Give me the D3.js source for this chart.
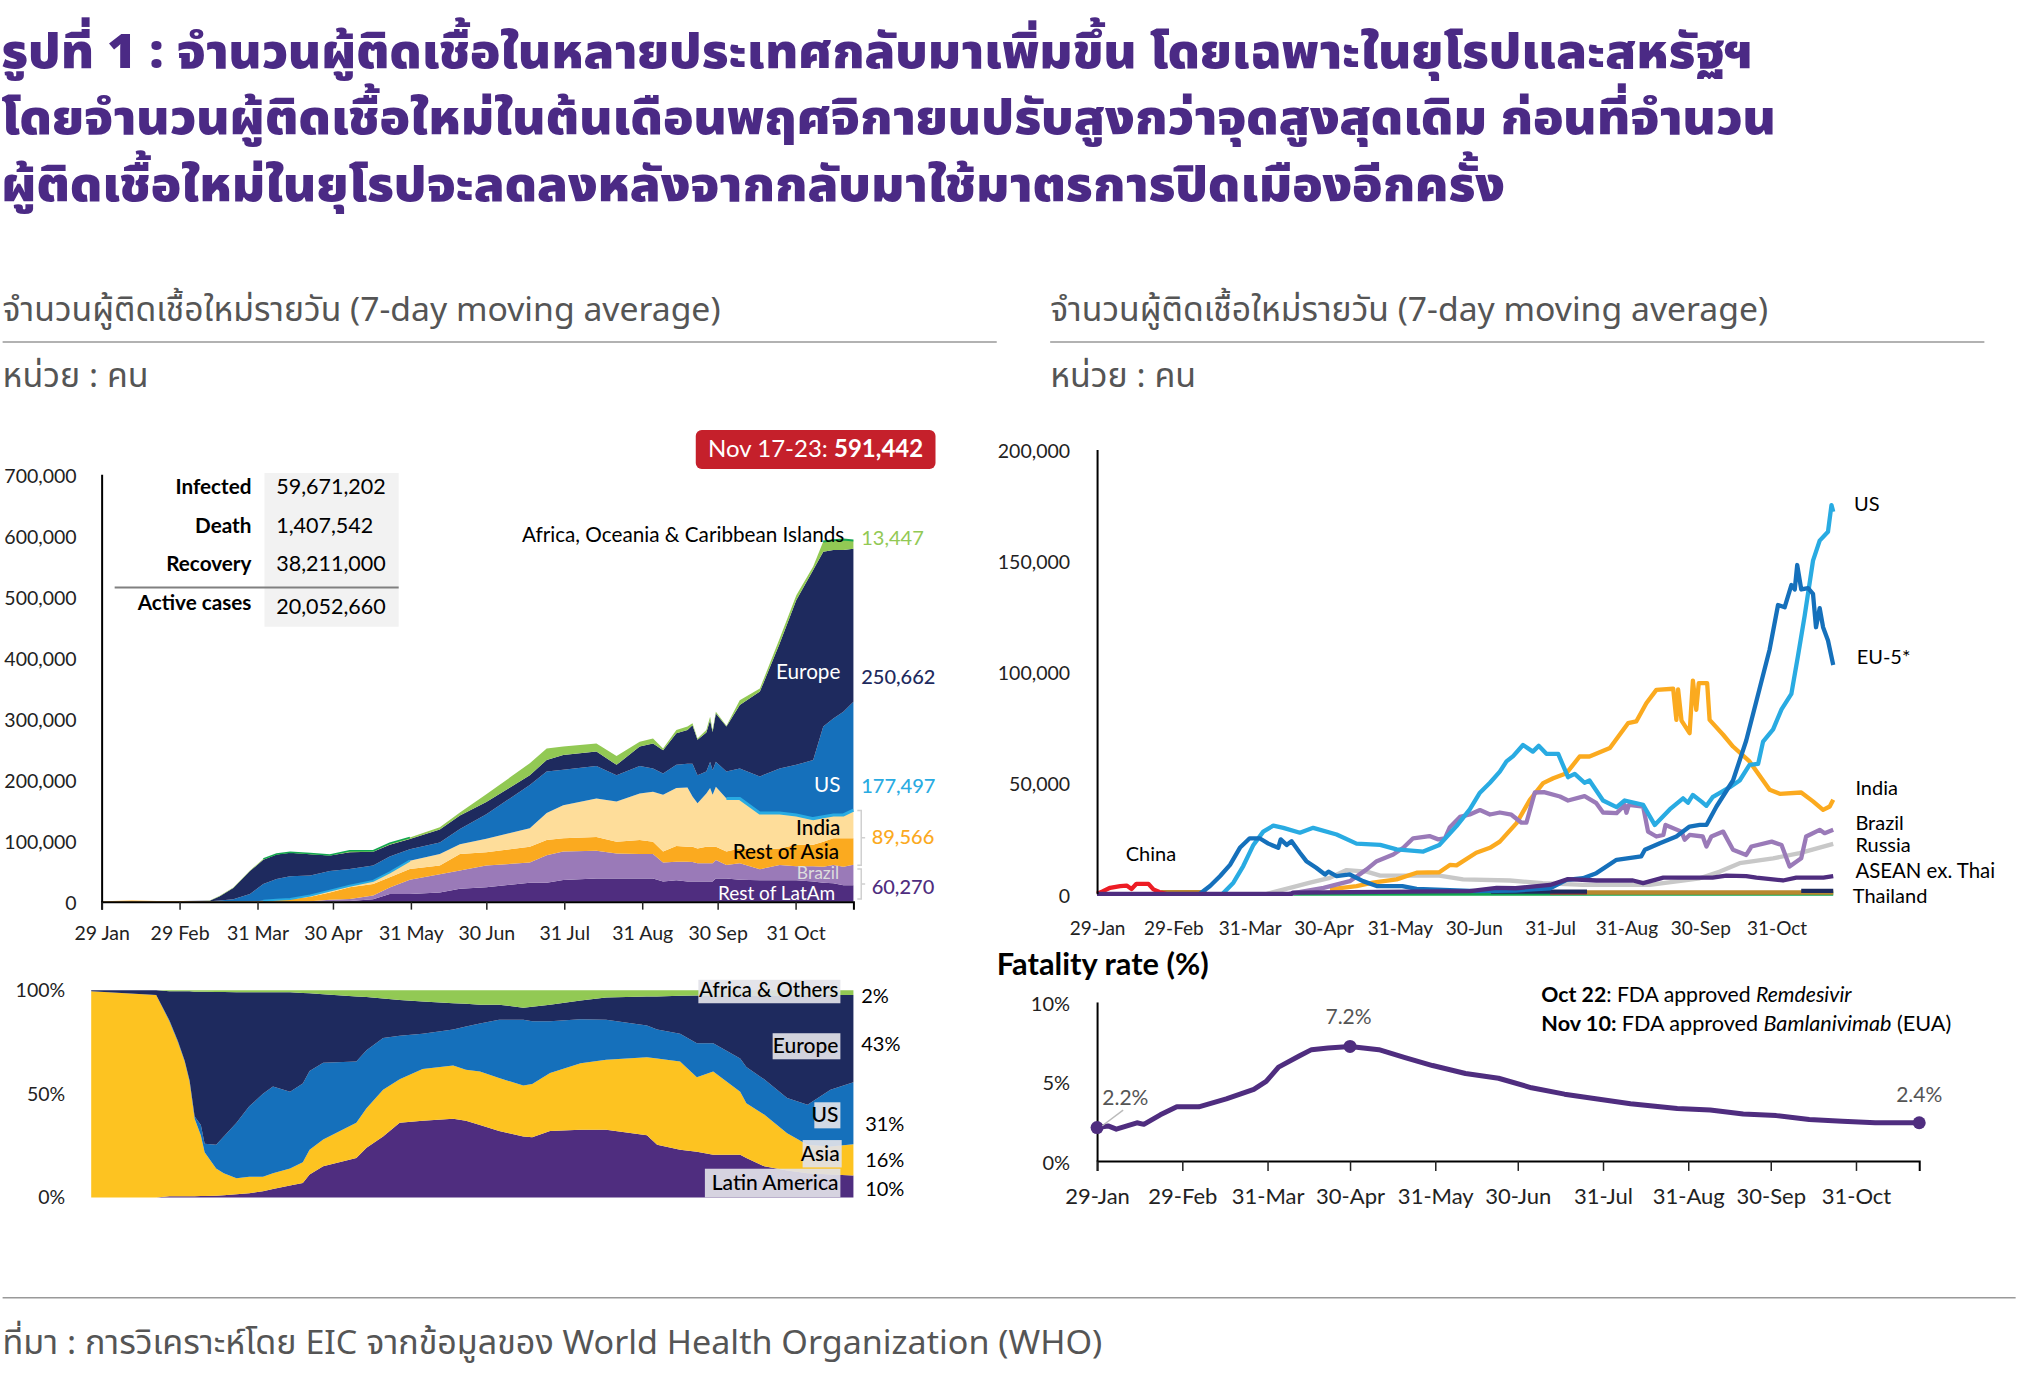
<!DOCTYPE html>
<html>
<head>
<meta charset="utf-8">
<script src="https://cdn.jsdelivr.net/npm/d3@7"></script>
<style>
  body { margin: 0; background: #fff; }
  text { font-family: Lato, "Open Sans", sans-serif; }
  text.thai { font-family: "Noto Sans Thai", "Noto Sans", "DejaVu Sans", sans-serif; }
</style>
</head>
<body>
<svg id="chart" width="2043" height="1380"></svg>
<script>
// stacked daily cases, thousands of people, by days since 29 Jan 2020
const caseDays = [0,12,22,32,40,43,47,52.4,59,64.3, 69.6,75,83,90.8,98.7,108,114.6,122.6,134.5,142.5, 153,170.3,177,183.6,196.8,204.8,214,219.3,223.3,228.6, 233,235,237,240.5,242,243,244.3,248.5,253.8,261.8, 269.7,276.3,283,287,291,295,299];
const latamCases = [0,0,0,0,0,0,0,0,0,0, 0,0,0,0,1,4,12.5,12.5,15,21, 23.5,31,31,35.5,38,38,38,38,33,35, 33,33,33,33,33,33,38,38,36,35, 35,35,33,31,30,27,27];
const brazilCases = [0,0,0,0,0,0,0,0,0,0, 0,0,.5,3,3.4,6,10.5,23.5,30,30, 35.5,33,45,46.5,45.5,41,40,40,31,30.5, 32.5,32,30,30,30,30,30,22,27,18, 25,23,25,26,30,30,33.3];
const asiaCases = [.5,2,1,1,.5,.5,.5,.5,.5,1, 2.5,3.8,7.5,12,19.1,19,17,17.5,14,27, 22,26,25,22,22.5,19,23,20,18,25.5, 24.5,25,24,27,27,27,22,22,24,32, 27,35,35,41,44,47,43.5];
const indiaCases = [0,0,0,0,0,0,0,0,0,.3, .5,.5,2,3,2.5,5,8,13.5,19,16, 22,30,44,54,63,66,76,82,93,95, 97,82,74,87,96,85,98,87,82,60, 58,49,43,41,38,38,46];
const usCases = [0,0,0,0,.1,.3,1.5,3.5,12,27.7, 34,37.2,32.6,32,27.5,25,26,19,19,25, 40,71,68,58,53,43,45,38,35,38, 39,54,46,36,43,40,41,44,49,60, 73,82,96,148,158,169,177.5];
const europeCases = [0,0,0,.2,.9,.8,7,18.5,37.5,39.5, 40,38.5,34.9,25.5,27.5,22.5,19,16.5,21,22, 20,16,19,24,24,17,32,41,38,52, 55,63,58,64,68,63,79,74,104,139, 205,270,311,286,276,265,250.7];
const africaCases = [0,0,0,0,.1,.1,.5,.5,1,1.5, 1,1,1.5,.9,2.5,2,2.5,2.5,4,5, 13,19.5,19,14,13,14.5,8,8,3,5, 6,3,2,4,6,3,3,1,8,5, 8,8,6,17,16,17,13.4];

// regional shares of new cases, percent
const shareDays = [0,25.5,30.7,34,36.7,38.6,40.6,43,44.5,49,52,57,62,67.4,71.3,78,83,85.7,91,104,108,114.5,121,130,142,147,152.5,160,169.5,173,180,192,202,218,222,231,237.6,244,254.6,257,264,273,281,290,299];
const latamShare = [0,0,.5,.5,.5,.5,.5,.7,.7,.8,1,1.5,2,3,4,5.8,7,11,15,19,24,29.4,36,37,38,37,35,32,29.4,29,32,32.6,32.6,30,25.4,23,22,20.6,20.6,19,15,13,11.7,11,10.6];
const asiaShare = [99.5,97.7,84.5,74.5,65.1,55.5,37.5,29.3,21.3,13.2,10.7,7.8,8,7,7.7,8.2,10,12,13,17,19,22.6,21,25,25.7,24.6,25.8,25.6,24.6,25.7,28,32.2,33.8,37.7,41.6,42.6,36,40.2,30.4,26.5,25,18,13.7,13.6,15];
const usShare = [0,0,.5,.5,.4,.5,1,5,4.1,11.4,17.7,26.7,34,40,41.8,37,38,38,37,29.6,28,25,21,17,17.3,20.9,23.2,28.1,31.7,30.3,25,21.2,19.3,15.3,14,13.4,16.4,13.6,16,17.5,17,17,19.3,27.4,30];
const europeShare = [.5,2.3,14,24,33.5,43,60.3,64.3,73.9,73.8,69.8,63,55,49,45.5,48,43.7,37.5,33,31.4,25.7,19,17.3,15.5,12.7,11,9,7.3,5.9,7,8,9,10.8,14,16,18.3,23.1,23.1,30.5,34.5,40.5,49.5,52.8,45.7,42.1];
const africaShare = [0,0,.5,.5,.5,.5,.7,.7,.7,.8,.8,1,1,1,1,1,1.3,1.5,2,3,3.3,4,4.7,5.5,6.3,6.5,7,7,8.4,8,7,5,3.5,3,3,2.7,2.5,2.5,2.5,2.5,2.5,2.5,2.5,2.3,2.3];

// country lines: [days since 29 Jan, thousands]
const usLine = [[51,0],[55.4,5],[59.4,12.5],[63.5,22],[67.5,28],[71.6,30.7],[75.7,29.7],[82.4,27.5],[87.8,29.7],[97.3,26.7],[105.4,22.6],[115,22],[121.7,20],[132.5,19],[139,22],[146,30.5],[151.4,38],[155.5,45.5],[159.6,50],[163.6,55],[166.3,59.6],[169,62],[173,67],[177,64],[179.4,66.6],[182.5,63],[187.3,63],[191.3,52.5],[194,54],[198,50],[200,51],[205.5,42],[211,39],[214.3,42],[221.8,40],[226.5,31],[232.6,38],[238,43],[240,41],[242,44.5],[245.5,41.5],[247.5,39.6],[250,43.5],[257,48],[261,51],[265,58],[268.5,58.5],[270.5,68.5],[274.6,74],[278,83],[282,90],[284.7,107],[287.4,125],[290.8,150],[293.5,159],[296.9,163],[298.3,175],[299,172]];
const euLine = [[41.8,0],[45.9,3.5],[50,8],[54,13],[58,20.7],[62,25],[66,25],[69.6,22.6],[73.6,20.7],[74.6,24.5],[77,22],[79,23.7],[82.4,18.5],[85,14.7],[89,11.7],[92.6,8.7],[94,10],[97.3,8],[102.7,8.7],[108,5.7],[113.6,3.5],[124,3.5],[129.8,2.2],[154,1.2],[170,1.5],[184,2.5],[190.7,6.3],[197.4,7],[202.8,9.3],[211,15.3],[221,16.8],[222.5,19.8],[228.6,22.8],[235.3,25.8],[240.7,30.3],[244.8,31],[247.5,31],[251.6,39.3],[258.3,51],[263.7,69],[269,92],[273.2,110],[276.6,130],[279.3,129],[282,139],[283.4,137],[284.4,148],[286,137],[288.8,137.6],[290.8,135],[292,120],[293.5,128.6],[294.9,120],[296.9,114],[299,103]];
const indiaLine = [[94.6,2],[105.4,3.5],[112,5],[121.7,6.5],[129.8,9.5],[139,9.7],[143.3,13],[146,12.8],[154,18.5],[159.6,20.7],[163.6,23.5],[170.4,31.8],[175.8,42.3],[181.2,49.8],[185.3,52],[190.7,54.3],[196,61.8],[200,61.8],[208.3,65.6],[215.7,76.8],[219,77.6],[223.1,85.8],[227.2,91.8],[234,92.3],[235.3,78.3],[236,92],[237.4,78],[240.7,72.3],[242,96],[243.4,82.8],[244.4,94.8],[247.8,94.8],[248.8,78.3],[254.3,71.6],[258.3,66.3],[265,59.6],[273.2,46.8],[277.3,45],[286,45.6],[290.8,41.6],[294.9,37.8],[297.6,39.3],[299,42.3]];
const brazilLine = [[78,0],[92,2.7],[102.7,5.7],[109.5,11],[113.6,14.7],[120.3,17.7],[124.4,20.7],[128.4,25],[135,26],[138.6,24.5],[141.3,25],[143.3,30],[147.4,34.6],[151.4,35.7],[155.5,37.7],[159.6,35.7],[163.6,36.6],[168.3,35.6],[172.4,32],[174.4,32],[177.8,45.6],[181.5,45.8],[188,43.8],[191.3,42],[198,44],[202.8,40.8],[205.5,36.6],[211,36.3],[214.3,40],[215,36.5],[216,40],[221.8,39.3],[223.8,28],[227.2,25.8],[230,26.5],[230.9,31],[237.4,28],[238.7,24.3],[240.7,26.5],[246,25.8],[247.5,21.3],[249.5,25.8],[254.3,28],[258.3,19.8],[263.7,17.5],[265.8,21.3],[274,23.5],[278,22],[281.3,12.3],[286,16],[288,25.8],[293.5,28.8],[295.5,27.3],[299,28.8]];
const russiaLine = [[69,0],[78.4,2.7],[86.5,5],[94.6,7.2],[101.4,10.7],[109.5,10],[115,8.2],[139,8.2],[148.7,6.5],[167.7,6],[181,4.8],[197.4,4],[224.5,4],[244.8,7],[253,10],[261,13.8],[274.6,16],[285.4,18.3],[299,22.5]];
const aseanLine = [[0,0],[79,0],[79.5,.5],[151.4,1.2],[162.3,2.7],[170,2.5],[184,4],[191.3,6.6],[202.8,6],[217.7,6],[221.8,4.8],[230,7.3],[250,7.3],[255.6,8.2],[263.7,8],[267.8,7.3],[278.6,6],[284,7.3],[295,7.3],[299,8]];
const chinaLine = [[0,0],[2,1],[5.3,2.7],[9.4,3.5],[12,3.7],[14,2.2],[16,4.5],[20.9,4.5],[22.9,2],[25.6,.7],[28,0]];
const tanEarly = [[26,.7],[44.5,.7]];
const tanLate = [[198.8,.6],[299,.6]];
const redLate = [[184,.7],[199,.7]];
const navyMid = [[160,1],[199,1]];
const navyLate = [[286,1.3],[299,1.3]];
const thailandLine = [[79.7,.05],[299,.05]];

// fatality rate: [days since 29 Jan, percent]
const fatalityLine = [[0,2.1],[4,2.2],[7,2],[14.5,2.4],[17,2.3],[23,2.9],[29,3.4],[37,3.4],[47,3.9],[57,4.5],[61.5,5],[66,5.9],[73.5,6.6],[78,7],[84,7.1],[92,7.2],[102.5,7],[112,6.5],[122,6],[134,5.5],[146,5.2],[158,4.6],[170,4.2],[182,3.9],[194,3.6],[211,3.3],[223,3.2],[235,2.95],[247,2.85],[259,2.6],[271,2.5],[283,2.4],[299,2.4]];
const fatalityDots = [[0,2.1],[92,7.2],[299,2.4]];

const monthTicks = ["01-29","02-29","03-31","04-30","05-31","06-30","07-31","08-31","09-30","10-31"];
const titleLines = [
  "รูปที่ 1 : จำนวนผู้ติดเชื้อในหลายประเทศกลับมาเพิ่มขึ้น โดยเฉพาะในยุโรปและสหรัฐฯ",
  "โดยจำนวนผู้ติดเชื้อใหม่ในต้นเดือนพฤศจิกายนปรับสูงกว่าจุดสูงสุดเดิม ก่อนที่จำนวน",
  "ผู้ติดเชื้อใหม่ในยุโรปจะลดลงหลังจากกลับมาใช้มาตรการปิดเมืองอีกครั้ง"
];

const colors = {
  latam: "#4f2d7f", brazil: "#9a7ab8", orange: "#fbaa1f", pale: "#fedd9a", blue: "#1570bb",
  sky: "#29abe2", navy: "#1e2a5e", green: "#92c954", yellow: "#fdc321", grey: "#c8c8c8"
};

// layout is measured on the 1568 wide view of the reference
const k = 2043 / 1568;
const parseDay = d3.timeParse("%Y-%m-%d");
const day = (s) => parseDay("2020-" + s);
const offset = (n) => d3.timeHour.offset(day("01-29"), n * 24);
const endDay = day("11-23");
const ticks = monthTicks.map(day);

const svg = d3.select("#chart");

function label(x, y, str, opts = {}) {
  const t = svg.append("text")
    .attr("x", x * k).attr("y", y * k)
    .attr("font-size", opts.size || 19)
    .attr("font-weight", opts.weight || 400)
    .attr("fill", opts.fill || "#000")
    .attr("text-anchor", opts.anchor || "start")
    .text(str);
  if (opts.cls) t.attr("class", opts.cls);
  if (opts.width) {
    t.attr("textLength", opts.width * k).attr("lengthAdjust", "spacingAndGlyphs");
  }
  return t;
}

// headers
titleLines.forEach((s, i) => {
  label(1, 52 + i * 51, s, { size: 48, weight: 900, fill: "#4b2a85", cls: "thai", width: [1344, 1362, 1154][i] });
});
["2", "806"].forEach((x) => {
  label(+x, 246, "จำนวนผู้ติดเชื้อใหม่รายวัน (7-day moving average)", { size: 33, fill: "#555", cls: "thai", width: 551 });
  label(+x, 297, "หน่วย : คน", { size: 33, fill: "#555", cls: "thai", width: 112 });
});
svg.append("line").attr("x1", 2 * k).attr("x2", 765 * k).attr("y1", 262.5 * k).attr("y2", 262.5 * k).attr("stroke", "#999").attr("stroke-width", 1.5);
svg.append("line").attr("x1", 806 * k).attr("x2", 1523 * k).attr("y1", 262.5 * k).attr("y2", 262.5 * k).attr("stroke", "#999").attr("stroke-width", 1.5);
svg.append("line").attr("x1", 2 * k).attr("x2", 1547 * k).attr("y1", 996 * k).attr("y2", 996 * k).attr("stroke", "#999").attr("stroke-width", 1.5);
label(2, 1039, "ที่มา : การวิเคราะห์โดย EIC จากข้อมูลของ World Health Organization (WHO)", { size: 33, fill: "#555", cls: "thai", width: 844 });

function bottomAxis(x, yPos, fmt, size, pad, font) {
  const g = svg.append("g")
    .attr("transform", `translate(0,${yPos})`)
    .call(d3.axisBottom(x).tickValues(ticks).tickFormat(d3.timeFormat(fmt)).tickSize(size).tickPadding(pad));
  g.select(".domain").attr("stroke", "#000").attr("stroke-width", 2);
  g.selectAll("line").attr("stroke", "#222").attr("stroke-width", 1.5);
  g.selectAll("text").attr("font-size", font).attr("fill", "#222").attr("font-family", "Lato");
  return g;
}

function leftAxis(y, xPos, values, fmt, font, pad) {
  const g = svg.append("g")
    .attr("transform", `translate(${xPos},0)`)
    .call(d3.axisLeft(y).tickValues(values).tickFormat(fmt).tickSize(0).tickPadding(pad));
  g.select(".domain").attr("stroke", "#000").attr("stroke-width", 2);
  g.selectAll("text").attr("font-size", font).attr("fill", "#222").attr("font-family", "Lato").attr("dy", "0.42em");
  return g;
}

// ---- stacked area, top left ----
const x1 = d3.scaleTime().domain([day("01-29"), endDay]).range([78 * k, 655 * k]);
const y1 = d3.scaleLinear().domain([0, 700000]).range([692 * k, 364 * k]);

const caseRows = caseDays.map((d, i) => ({
  date: offset(d),
  latam: latamCases[i], brazil: brazilCases[i], asia: asiaCases[i], india: indiaCases[i],
  us: usCases[i], europe: europeCases[i], africa: africaCases[i]
}));
const caseKeys = ["latam", "brazil", "asia", "india", "us", "europe", "africa"];
const caseFill = { latam: colors.latam, brazil: colors.brazil, asia: colors.orange, india: colors.pale, us: colors.blue, europe: colors.navy, africa: colors.green };
const caseStack = d3.stack().keys(caseKeys)(caseRows);
const caseArea = d3.area()
  .x((d) => x1(d.data.date))
  .y0((d) => y1(d[0] * 1000))
  .y1((d) => y1(d[1] * 1000));

svg.append("g").selectAll("path").data(caseStack).enter().append("path")
  .attr("d", caseArea)
  .attr("fill", (d) => caseFill[d.key]);

// thin strips: sky on top of the India band, dark green on top of the whole stack
const stackEdge = d3.line().x((d) => x1(d.data.date)).y((d) => y1(d[1] * 1000));
function edgeStrip(layer, from, to, color, width) {
  const part = layer.filter((d) => d.data.date >= offset(from) && d.data.date <= offset(to));
  svg.append("path").attr("d", stackEdge(part)).attr("fill", "none").attr("stroke", color).attr("stroke-width", width);
}
edgeStrip(caseStack[3], 64, 123, colors.sky, 2);
edgeStrip(caseStack[3], 248, 299, colors.sky, 3);
edgeStrip(caseStack[6], 64, 123, "#12a650", 1.5);
edgeStrip(caseStack[6], 287, 299, "#12a650", 2);

bottomAxis(x1, 692 * k, "%-d %b", 8, 17, 19.5);
leftAxis(y1, 78 * k, d3.range(0, 700001, 100000), d3.format(","), 19.5, 25);

// summary box
svg.append("rect").attr("x", 203 * k).attr("y", 363 * k).attr("width", 103 * k).attr("height", 118 * k).attr("fill", "#f2f2f2");
svg.append("line").attr("x1", 88 * k).attr("x2", 306 * k).attr("y1", 451 * k).attr("y2", 451 * k).attr("stroke", "#808080").attr("stroke-width", 2);
[["Infected", "59,671,202", 379, 379], ["Death", "1,407,542", 409, 409], ["Recovery", "38,211,000", 438, 438], ["Active cases", "20,052,660", 468, 471]].forEach(([a, b, ya, yb]) => {
  label(193, ya, a, { size: 20.7, weight: 700, anchor: "end" });
  label(212, yb, b, { size: 21.5 });
});

// red badge
svg.append("rect").attr("x", 534 * k).attr("y", 330 * k).attr("width", 184 * k).attr("height", 30 * k).attr("rx", 6).attr("fill", "#c5202b");
const badge = label(626, 351, "Nov 17-23: ", { size: 24, fill: "#fff", anchor: "middle" });
badge.append("tspan").attr("font-weight", 700).text("591,442");

label(648, 416, "Africa, Oceania & Caribbean Islands", { size: 20.7, anchor: "end" });
label(661, 418, "13,447", { size: 20, fill: colors.green });
label(645, 521, "Europe", { size: 20.7, fill: "#fff", anchor: "end" });
label(661, 525, "250,662", { size: 20, fill: colors.navy, weight: 500 });
label(645, 608, "US", { size: 20.7, fill: "#fff", anchor: "end" });
label(661, 609, "177,497", { size: 20, fill: colors.sky, weight: 500 });
label(645, 641, "India", { size: 20.7, anchor: "end", weight: 500 });
label(644, 659, "Rest of Asia", { size: 20.7, anchor: "end", weight: 500 });
label(669, 648, "89,566", { size: 20, fill: colors.orange, weight: 500 });
label(644, 675, "Brazil", { size: 17.5, fill: "#ddd", anchor: "end" });
label(641, 691, "Rest of LatAm", { size: 19, fill: "#fff", anchor: "end" });
label(669, 686, "60,270", { size: 20, fill: colors.latam, weight: 500 });

[[622, 664], [667, 690]].forEach(([a, b]) => {
  const m = (a + b) / 2;
  svg.append("path")
    .attr("d", `M${658 * k},${a * k}h${3 * k}v${(m - a) * k}h${3 * k}h${-3 * k}v${(b - m) * k}h${-3 * k}`)
    .attr("fill", "none").attr("stroke", "#d0d0d0").attr("stroke-width", 1.5);
});

// ---- 100% stack, bottom left ----
const x2 = d3.scaleTime().domain([day("01-29"), endDay]).range([70 * k, 655 * k]);
const y2 = d3.scaleLinear().domain([0, 1]).range([919 * k, 760 * k]);
const shareRows = shareDays.map((d, i) => ({
  date: offset(d), latam: latamShare[i], asia: asiaShare[i], us: usShare[i], europe: europeShare[i], africa: africaShare[i]
}));
const shareFill = { latam: colors.latam, asia: colors.yellow, us: colors.blue, europe: colors.navy, africa: colors.green };
const shareStack = d3.stack().keys(["latam", "asia", "us", "europe", "africa"]).offset(d3.stackOffsetExpand)(shareRows);
svg.append("g").selectAll("path").data(shareStack).enter().append("path")
  .attr("d", d3.area().x((d) => x2(d.data.date)).y0((d) => y2(d[0])).y1((d) => y2(d[1])))
  .attr("fill", (d) => shareFill[d.key]);

[[0, "0%"], [0.5, "50%"], [1, "100%"]].forEach(([v, s]) => {
  svg.append("text").attr("x", 50 * k).attr("y", y2(v) + 7).attr("text-anchor", "end").attr("font-size", 19.5).attr("fill", "#222").text(s);
});

[[536, 752, 109, 18, "Africa & Others", 765, "2%", 770, 661, 20.3],
 [593, 793, 52, 20, "Europe", 808, "43%", 807, 661, 21],
 [625, 846, 20, 20, "US", 861, "31%", 868, 664, 21],
 [616, 875, 30, 21, "Asia", 891, "16%", 896, 664, 21],
 [541, 897, 104, 22, "Latin America", 913, "10%", 918, 664, 21]].forEach(([rx, ry, rw, rh, name, ty, pct, py, px, sz]) => {
  svg.append("rect").attr("x", rx * k).attr("y", ry * k).attr("width", rw * k).attr("height", rh * k).attr("fill", "#e2e2e8").attr("opacity", 0.92);
  label(rx + rw - 1.5, ty, name, { size: sz, anchor: "end", weight: 500 });
  label(px, py, pct, { size: 20 });
});

// ---- country lines, top right ----
const x3 = d3.scaleTime().domain([day("01-29"), endDay]).range([842 * k, 1407 * k]);
const y3 = d3.scaleLinear().domain([0, 200000]).range([686 * k, 345 * k]);
const countryLine = d3.line().x((d) => x3(offset(d[0]))).y((d) => y3(d[1] * 1000));

const lineSeries = [
  [russiaLine, colors.grey], [thailandLine, "#12a650"], [tanEarly, "#b8892f"], [tanLate, "#b8892f"], [redLate, "#ed1c24"],
  [navyMid, colors.navy], [navyLate, colors.navy], [chinaLine, "#ed1c24"],
  [indiaLine, colors.orange], [brazilLine, colors.brazil], [usLine, colors.sky], [euLine, colors.blue], [aseanLine, colors.latam]
];
svg.append("g").selectAll("path").data(lineSeries).enter().append("path")
  .attr("d", (d) => countryLine(d[0]))
  .attr("fill", "none").attr("stroke", (d) => d[1]).attr("stroke-width", 4.3).attr("stroke-linejoin", "round");

const ax3 = bottomAxis(x3, 686 * k, "%-d-%b", 0, 28, 19);
ax3.select(".domain").attr("stroke", "none");
leftAxis(y3, 842 * k, d3.range(0, 200001, 50000), d3.format(","), 19.5, 27);

label(864, 661, "China", { size: 20 });
label(1423, 392, "US", { size: 20 });
label(1425, 510, "EU-5*", { size: 20 });
label(1424, 610, "India", { size: 20 });
label(1424, 637, "Brazil", { size: 20 });
label(1424, 654, "Russia", { size: 20 });
label(1424, 674, "ASEAN ex. Thai", { size: 20.4 });
label(1422, 693, "Thailand", { size: 20 });

// ---- fatality rate, bottom right ----
const x4 = d3.scaleTime().domain([day("01-29"), endDay]).range([842 * k, 1473 * k]);
const y4 = d3.scaleLinear().domain([0, 10]).range([891 * k, 769 * k]);
bottomAxis(x4, 891 * k, "%-d-%b", 10, 17, 22);
leftAxis(y4, 842 * k, [0, 5, 10], (d) => d + "%", 20, 27);

svg.append("path")
  .attr("d", d3.line().x((d) => x4(offset(d[0]))).y((d) => y4(d[1]))(fatalityLine))
  .attr("fill", "none").attr("stroke", colors.latam).attr("stroke-width", 5).attr("stroke-linejoin", "round");
svg.append("g").selectAll("circle").data(fatalityDots).enter().append("circle")
  .attr("cx", (d) => x4(offset(d[0]))).attr("cy", (d) => y4(d[1])).attr("r", 6.5).attr("fill", colors.latam);

svg.append("line").attr("x1", 846 * k).attr("y1", 864 * k).attr("x2", 862 * k).attr("y2", 852 * k).attr("stroke", "#bbb").attr("stroke-width", 1.5);
label(846, 848, "2.2%", { size: 21, fill: "#555" });
label(1035, 786, "7.2%", { size: 21, fill: "#555", anchor: "middle" });
label(1473, 846, "2.4%", { size: 21, fill: "#555", anchor: "middle" });
label(765, 748, "Fatality rate (%)", { size: 30.8, weight: 700 });

const note1 = label(1183, 769, "Oct 22", { size: 21.2, weight: 700 });
note1.append("tspan").text(": FDA approved ").attr("font-weight", 400);
note1.append("tspan").text("Remdesivir").attr("font-weight", 400).attr("font-style", "italic");
const note2 = label(1183, 791, "Nov 10: ", { size: 21.6, weight: 700 });
note2.append("tspan").text("FDA approved ").attr("font-weight", 400);
note2.append("tspan").text("Bamlanivimab").attr("font-weight", 400).attr("font-style", "italic");
note2.append("tspan").text(" (EUA)").attr("font-weight", 400);
</script>
</body>
</html>
